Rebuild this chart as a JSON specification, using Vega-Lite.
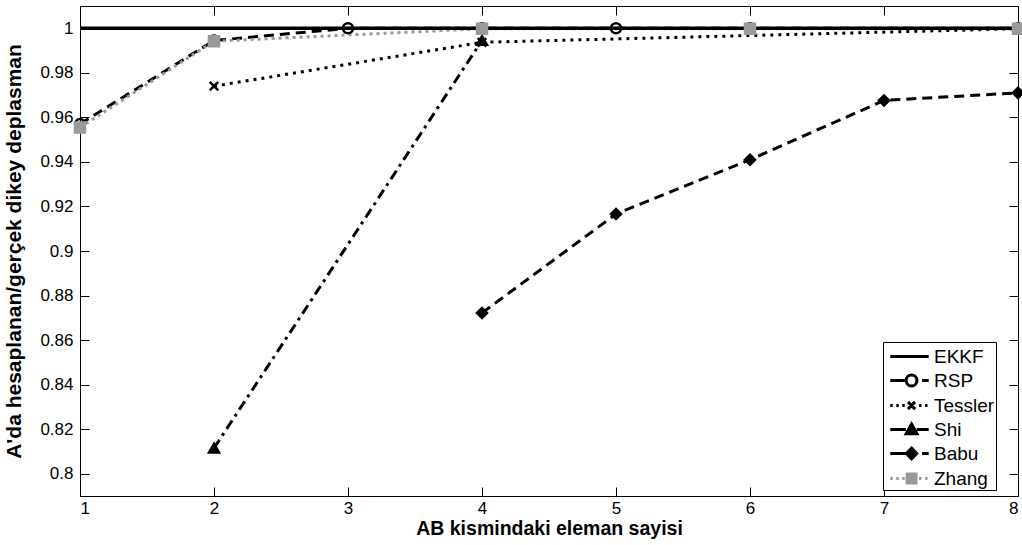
{
  "$schema": "https://vega.github.io/schema/vega-lite/v6.json",
  "width": 938,
  "height": 490,
  "autosize": {"type": "none"},
  "padding": {"left": 80, "top": 6, "right": 4, "bottom": 49},
  "background": "white",
  "config": {
    "view": {"stroke": "black", "strokeWidth": 1},
    "axis": {
      "grid": false,
      "domainColor": "black",
      "tickColor": "black",
      "tickSize": -9,
      "tickWidth": 1,
      "labelColor": "black",
      "labelFont": "Liberation Sans",
      "labelFontSize": 17,
      "titleFont": "Liberation Sans",
      "titleFontSize": 19,
      "titleFontWeight": "bold",
      "titleColor": "black"
    }
  },
  "data": {
    "values": [
      {"series": "EKKF", "x": 1, "y": 1}, {"series": "EKKF", "x": 2, "y": 1}, {"series": "EKKF", "x": 3, "y": 1}, {"series": "EKKF", "x": 4, "y": 1},
      {"series": "EKKF", "x": 5, "y": 1}, {"series": "EKKF", "x": 6, "y": 1}, {"series": "EKKF", "x": 7, "y": 1}, {"series": "EKKF", "x": 8, "y": 1},
      {"series": "Shi", "x": 2, "y": 0.8115}, {"series": "Shi", "x": 4, "y": 0.9945},
      {"series": "Babu", "x": 4, "y": 0.8722}, {"series": "Babu", "x": 5, "y": 0.9166}, {"series": "Babu", "x": 6, "y": 0.941}, {"series": "Babu", "x": 7, "y": 0.9676}, {"series": "Babu", "x": 8, "y": 0.971},
      {"series": "Tessler", "x": 2, "y": 0.974}, {"series": "Tessler", "x": 4, "y": 0.9937}, {"series": "Tessler", "x": 8, "y": 0.9998},
      {"series": "RSP", "x": 1, "y": 0.957}, {"series": "RSP", "x": 2, "y": 0.9945}, {"series": "RSP", "x": 3, "y": 1.0}, {"series": "RSP", "x": 4, "y": 1.0}, {"series": "RSP", "x": 5, "y": 1.0}, {"series": "RSP", "x": 6, "y": 1.0}, {"series": "RSP", "x": 8, "y": 1.0},
      {"series": "Zhang", "x": 1, "y": 0.9555}, {"series": "Zhang", "x": 2, "y": 0.9942}, {"series": "Zhang", "x": 4, "y": 0.9998}, {"series": "Zhang", "x": 6, "y": 0.9998}, {"series": "Zhang", "x": 8, "y": 0.9998}
    ]
  },
  "resolve": {"axis": {"x": "independent", "y": "independent"}},
  "layer": [
    {
      "transform": [{"filter": "datum.series !== 'EKKF'"}],
      "mark": {"type": "line", "strokeWidth": 3, "clip": true},
      "encoding": {
        "x": {"field": "x", "type": "quantitative",
              "scale": {"domain": [1, 8], "nice": false, "zero": false},
              "axis": {"orient": "bottom", "values": [1, 2, 3, 4, 5, 6, 7, 8], "format": "d", "title": "AB kismindaki eleman sayisi",
                       "labelFontSize": 17, "labelFont": "Liberation Sans", "tickSize": -9, "labelPadding": 13, "titlePadding": 3, "titleFontSize": 19.5}},
        "y": {"field": "y", "type": "quantitative",
              "scale": {"domain": [0.79, 1.01], "nice": false, "zero": false},
              "axis": {"orient": "left", "values": [0.8, 0.82, 0.84, 0.86, 0.88, 0.9, 0.92, 0.94, 0.96, 0.98, 1], "format": "~g", "title": "A'da hesaplanan/gerçek dikey deplasman",
                       "labelFontSize": 17, "labelFont": "Liberation Sans", "tickSize": -9, "labelPadding": 16, "titlePadding": 15, "titleFontSize": 21}},
        "color": {"field": "series", "type": "nominal",
                  "scale": {"domain": ["EKKF", "RSP", "Tessler", "Shi", "Babu", "Zhang"], "range": ["black", "black", "black", "black", "black", "#999999"]},
                  "legend": {
                    "orient": "none", "legendX": 803, "legendY": 336, "title": null,
                    "symbolSize": 576, "symbolStrokeWidth": 3, "symbolDash": [],
                    "labelOffset": 23, "rowPadding": 0, "padding": 1,
                    "strokeColor": "black", "fillColor": "white",
                    "labelFont": "Liberation Sans", "labelFontSize": 19, "labelColor": "black",
                    "encode": {"symbols": {"update": {
                      "shape": {"signal": "datum.value === 'EKKF' ? 'M-0.6,0H2.6' : datum.value === 'RSP' ? 'M-0.6,0H0.7M1.62,0A0.45,0.45 0 1,1 0.72,0A0.45,0.45 0 1,1 1.62,0M2.05,0H2.6' : datum.value === 'Tessler' ? 'M-0.6,0H-0.4M-0.1,0H0.1M0.4,0H0.6M0.87,-0.3L1.47,0.3M0.87,0.3L1.47,-0.3M1.8,0H2.0M2.3,0H2.5' : datum.value === 'Shi' ? 'M-0.6,0H0.7M1.17,-0.45L1.62,0.35L0.72,0.35ZM1.6,0H2.6' : datum.value === 'Babu' ? 'M-0.6,0H0.7M1.17,-0.45L1.6,0L1.17,0.45L0.74,0ZM2.05,0H2.6' : 'M-0.6,0H-0.4M-0.1,0H0.1M0.4,0H0.6M0.8,-0.37H1.54V0.37H0.8ZM1.8,0H2.0M2.3,0H2.5'"},
                      "fill": {"signal": "datum.value === 'RSP' ? 'transparent' : datum.value === 'Zhang' ? '#999999' : 'black'"},
                      "stroke": {"signal": "datum.value === 'Zhang' ? '#999999' : 'black'"},
                      "strokeDash": {"value": []},
                      "strokeWidth": {"value": 3},
                      "opacity": {"value": 1}
                    }}}
                  }},
        "strokeDash": {"field": "series", "type": "nominal",
                       "scale": {"domain": ["RSP", "Tessler", "Shi", "Babu", "Zhang"], "range": [[10, 6], [3, 5], [10, 5, 3, 5], [10, 6], [3, 4]]},
                       "legend": null}
      }
    },
    {
      "transform": [{"filter": "datum.series === 'EKKF'"}],
      "mark": {"type": "line", "strokeWidth": 3.5, "clip": true},
      "encoding": {
        "x": {"field": "x", "type": "quantitative", "scale": {"domain": [1, 8], "nice": false, "zero": false},
              "axis": {"orient": "top", "values": [1, 2, 3, 4, 5, 6, 7, 8], "labels": false, "title": null, "tickSize": -9}},
        "y": {"field": "y", "type": "quantitative", "scale": {"domain": [0.79, 1.01], "nice": false, "zero": false},
              "axis": {"orient": "right", "values": [0.8, 0.82, 0.84, 0.86, 0.88, 0.9, 0.92, 0.94, 0.96, 0.98, 1], "labels": false, "title": null, "tickSize": -9}},
        "color": {"field": "series", "type": "nominal"}
      }
    },
    {
      "transform": [{"filter": "datum.series !== 'EKKF'"}],
      "mark": {"type": "point", "size": 100, "strokeWidth": 2.5, "opacity": 1},
      "encoding": {
        "x": {"field": "x", "type": "quantitative", "scale": {"domain": [1, 8], "nice": false, "zero": false}, "axis": null},
        "y": {"field": "y", "type": "quantitative", "scale": {"domain": [0.79, 1.01], "nice": false, "zero": false}, "axis": null},
        "shape": {"field": "series", "type": "nominal",
                  "scale": {"domain": ["RSP", "Tessler", "Shi", "Babu", "Zhang"], "range": ["circle", "M-0.85,-0.85L0.85,0.85M-0.85,0.85L0.85,-0.85", "triangle-up", "diamond", "square"]},
                  "legend": null},
        "fill": {"field": "series", "type": "nominal",
                 "scale": {"domain": ["RSP", "Tessler", "Shi", "Babu", "Zhang"], "range": ["transparent", "black", "black", "black", "#999999"]},
                 "legend": null},
        "stroke": {"field": "series", "type": "nominal",
                   "scale": {"domain": ["RSP", "Tessler", "Shi", "Babu", "Zhang"], "range": ["black", "black", "black", "black", "#999999"]},
                   "legend": null}
      }
    }
  ]
}
